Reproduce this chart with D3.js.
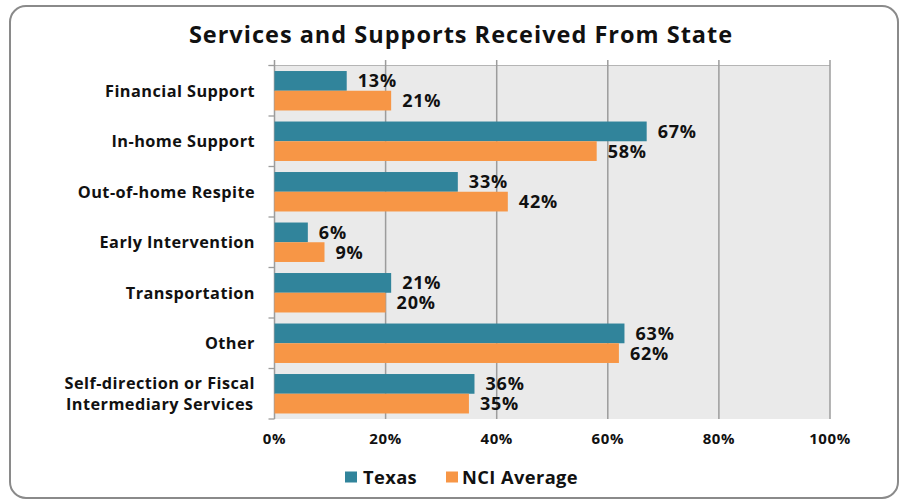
<!DOCTYPE html>
<html>
<head>
<meta charset="utf-8">
<script src="https://cdn.jsdelivr.net/npm/d3@7"></script>
<style>
  html, body { margin: 0; padding: 0; background: #fff; }
  svg { display: block; font-family: "Open Sans", Lato, sans-serif; font-weight: bold; }
</style>
</head>
<body>
<svg id="chart" width="900" height="502"></svg>
<script>
const title = "Services and Supports Received From State";
const categories = [
  "Financial Support",
  "In-home Support",
  "Out-of-home Respite",
  "Early Intervention",
  "Transportation",
  "Other",
  "Self-direction or Fiscal\nIntermediary Services"
];
const seriesNames = ["Texas", "NCI Average"];
const texasValues = [0.13, 0.67, 0.33, 0.06, 0.21, 0.63, 0.36];
const nciValues   = [0.21, 0.58, 0.42, 0.09, 0.20, 0.62, 0.35];
const tickValues = [0, 0.2, 0.4, 0.6, 0.8, 1.0];
const colors = ["#31849B", "#F79646"];

const svg = d3.select("#chart");

// outer rounded frame
svg.append("rect")
  .attr("x", 10).attr("y", 6).attr("width", 888).attr("height", 492)
  .attr("rx", 16).attr("ry", 16)
  .attr("fill", "#fff").attr("stroke", "#8a8a8a").attr("stroke-width", 2);

// title
svg.append("text")
  .attr("x", 461).attr("y", 43)
  .attr("text-anchor", "middle")
  .attr("font-size", 23.5)
  .attr("letter-spacing", 1)
  .attr("fill", "#111")
  .text(title);

const x = d3.scaleLinear().domain([0, 1]).range([274.5, 830]);
const y = d3.scaleBand().domain(categories).range([65.5, 419]).paddingInner(0).paddingOuter(0);
const ys = d3.scaleBand().domain(seriesNames).range([0, y.bandwidth()]).paddingInner(0).paddingOuter(0.28);

const plotTop = 65.5, plotBottom = 419, gridTop = 60;

// plot background
svg.append("rect")
  .attr("x", x(0)).attr("y", plotTop)
  .attr("width", x(1) - x(0)).attr("height", plotBottom - plotTop)
  .attr("fill", "#EAEAEA");

// top border line
svg.append("line")
  .attr("x1", x(0) - 6).attr("x2", x(1))
  .attr("y1", plotTop).attr("y2", plotTop)
  .attr("stroke", "#b5b5b5").attr("stroke-width", 1.2);

// vertical gridlines
svg.append("g").selectAll("line")
  .data(tickValues.slice(1))
  .join("line")
  .attr("x1", d => x(d)).attr("x2", d => x(d))
  .attr("y1", gridTop).attr("y2", plotBottom)
  .attr("stroke", "#9c9c9c").attr("stroke-width", 1.5);

// category axis line + ticks
svg.append("line")
  .attr("x1", x(0)).attr("x2", x(0))
  .attr("y1", gridTop).attr("y2", plotBottom)
  .attr("stroke", "#9c9c9c").attr("stroke-width", 1.5);

const boundaries = categories.map(c => y(c)).concat([y.range()[1]]);
svg.append("g").selectAll("line")
  .data(boundaries)
  .join("line")
  .attr("x1", x(0) - 6).attr("x2", x(0))
  .attr("y1", d => d).attr("y2", d => d)
  .attr("stroke", "#9c9c9c").attr("stroke-width", 1.3);

// bars
const data = categories.map((c, i) => ({cat: c, vals: [texasValues[i], nciValues[i]]}));
const groups = svg.append("g").selectAll("g")
  .data(data)
  .join("g")
  .attr("transform", d => `translate(0,${y(d.cat)})`);

groups.selectAll("rect")
  .data(d => d.vals.map((v, j) => ({v, s: seriesNames[j], j})))
  .join("rect")
  .attr("x", x(0))
  .attr("y", d => ys(d.s))
  .attr("width", d => x(d.v) - x(0))
  .attr("height", ys.bandwidth())
  .attr("fill", d => colors[d.j]);

// data labels
groups.selectAll("text")
  .data(d => d.vals.map((v, j) => ({v, s: seriesNames[j], j})))
  .join("text")
  .attr("x", d => x(d.v) + 11)
  .attr("y", d => ys(d.s) + ys.bandwidth() / 2 + 6.5)
  .attr("font-size", 18)
  .attr("letter-spacing", 0.8)
  .attr("fill", "#111")
  .text(d => Math.round(d.v * 100) + "%");

// category labels
const catG = svg.append("g");
categories.forEach(c => {
  const lines = c.split("\n");
  const cy = y(c) + y.bandwidth() / 2;
  const lh = 21;
  const t = catG.append("text")
    .attr("font-size", 16.3)
    .attr("letter-spacing", 0.45)
    .attr("fill", "#111")
    .attr("text-anchor", "middle");
  lines.forEach((ln, k) => {
    t.append("tspan")
      .attr("x", 0)
      .attr("y", cy + 5.8 + (k - (lines.length - 1) / 2) * lh)
      .text(ln);
  });
  const w = t.node().getBBox().width;
  t.attr("transform", `translate(${255 - w / 2},0)`);
});

// x axis tick labels
svg.append("g").selectAll("text")
  .data(tickValues)
  .join("text")
  .attr("x", d => x(d))
  .attr("y", 444)
  .attr("text-anchor", "middle")
  .attr("font-size", 15)
  .attr("letter-spacing", 0.6)
  .attr("fill", "#111")
  .text(d => d3.format(".0%")(d));

// legend
const legendItems = [
  {name: seriesNames[0], color: colors[0], sx: 345, tx: 363},
  {name: seriesNames[1], color: colors[1], sx: 446, tx: 462}
];
const lg = svg.append("g");
legendItems.forEach(it => {
  lg.append("rect").attr("x", it.sx).attr("y", 471.5).attr("width", 12).attr("height", 11).attr("fill", it.color);
  lg.append("text").attr("x", it.tx).attr("y", 483.5).attr("font-size", 18.3).attr("letter-spacing", 0.4).attr("fill", "#111").text(it.name);
});
</script>
</body>
</html>
